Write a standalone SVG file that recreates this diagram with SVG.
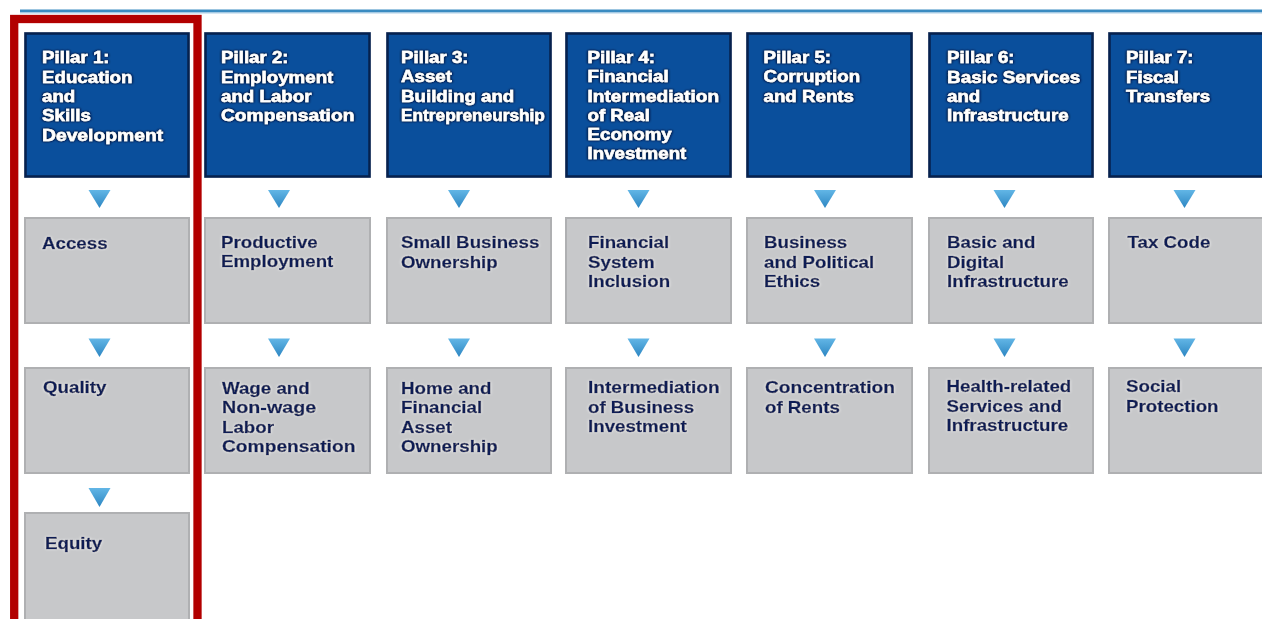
<svg xmlns="http://www.w3.org/2000/svg" width="1262" height="619" viewBox="0 0 1262 619">
  <defs>
    <linearGradient id="triFill" x1="0" y1="0" x2="0" y2="1">
      <stop offset="0" stop-color="#62b6e6"/>
      <stop offset="1" stop-color="#2d86c2"/>
    </linearGradient>
    <!-- dark halo behind white pillar titles -->
    <filter id="haloDark" x="-10%" y="-20%" width="120%" height="140%">
      <feGaussianBlur in="SourceAlpha" stdDeviation="1.2" result="b"/>
      <feFlood flood-color="#001436" flood-opacity="1"/>
      <feComposite in2="b" operator="in" result="s"/>
      <feMerge><feMergeNode in="s"/><feMergeNode in="s"/><feMergeNode in="SourceGraphic"/></feMerge>
    </filter>
    <!-- light halo behind navy text on grey boxes -->
    <filter id="haloLight" x="-10%" y="-20%" width="120%" height="140%">
      <feGaussianBlur in="SourceAlpha" stdDeviation="1.2" result="b"/>
      <feFlood flood-color="#ffffff" flood-opacity="0.9"/>
      <feComposite in2="b" operator="in" result="s"/>
      <feMerge><feMergeNode in="s"/><feMergeNode in="SourceGraphic"/></feMerge>
    </filter>
  </defs>
  <style>
    .pillar { fill: #0a4f9c; stroke: #06214d; stroke-width: 2.5; }
    .pillar-edge { fill: none; stroke: #b7bfcc; stroke-width: 1; }
    .item { fill: #c7c8ca; stroke: #afb0b2; stroke-width: 2; }
    .t { font-family: "Liberation Sans", Arial, Helvetica, sans-serif; font-weight: bold; font-size: 16px; stroke-width: 0.45px; }
    .tw { fill: #ffffff; stroke: #ffffff; filter: url(#haloDark); }
    .tn { fill: #0a1d55; stroke: #0a1d55; filter: url(#haloLight); }
    .tri { fill: url(#triFill); }
  </style>

  <rect width="1262" height="619" fill="#ffffff"/>

  <!-- top rule -->
  <rect x="20" y="9.5" width="1242" height="3" fill="#3a8bc1"/>
  <rect x="20" y="12.5" width="1242" height="1" fill="#aed0e8"/>

  <!-- Pillar header boxes (labels are set in a widened bold face) -->
  <g id="pillar1">
    <rect class="pillar-edge" x="24.5" y="32.5" width="165" height="145"/>
    <rect class="pillar" x="25.5" y="33.5" width="163" height="143"/>
    <text class="t tw" transform="translate(42 0) scale(1.17 1)"><tspan x="0" y="63.5">Pillar 1:</tspan><tspan x="0" y="82.8">Education</tspan><tspan x="0" y="102.1">and</tspan><tspan x="0" y="121.4">Skills</tspan><tspan x="0" y="140.7" textLength="103.5" lengthAdjust="spacingAndGlyphs">Development</tspan></text>
  </g>
  <g id="pillar2">
    <rect class="pillar-edge" x="204.5" y="32.5" width="166" height="145"/>
    <rect class="pillar" x="205.5" y="33.5" width="164" height="143"/>
    <text class="t tw" transform="translate(221 0) scale(1.17 1)"><tspan x="0" y="63.5">Pillar 2:</tspan><tspan x="0" y="82.8">Employment</tspan><tspan x="0" y="102.1">and Labor</tspan><tspan x="0" y="121.4" textLength="114" lengthAdjust="spacingAndGlyphs">Compensation</tspan></text>
  </g>
  <g id="pillar3">
    <rect class="pillar-edge" x="386.5" y="32.5" width="165" height="145"/>
    <rect class="pillar" x="387.5" y="33.5" width="163" height="143"/>
    <text class="t tw" transform="translate(401 0) scale(1.17 1)"><tspan x="0" y="63">Pillar 3:</tspan><tspan x="0" y="82.3">Asset</tspan><tspan x="0" y="101.6">Building and</tspan><tspan x="0" y="120.9" textLength="123" lengthAdjust="spacingAndGlyphs">Entrepreneurship</tspan></text>
  </g>
  <g id="pillar4">
    <rect class="pillar-edge" x="565.5" y="32.5" width="166" height="145"/>
    <rect class="pillar" x="566.5" y="33.5" width="164" height="143"/>
    <text class="t tw" transform="translate(587.5 0) scale(1.17 1)"><tspan x="0" y="63">Pillar 4:</tspan><tspan x="0" y="82.3">Financial</tspan><tspan x="0" y="101.6" textLength="112.5" lengthAdjust="spacingAndGlyphs">Intermediation</tspan><tspan x="0" y="120.9">of Real</tspan><tspan x="0" y="140.2">Economy</tspan><tspan x="0" y="159.5">Investment</tspan></text>
  </g>
  <g id="pillar5">
    <rect class="pillar-edge" x="746.5" y="32.5" width="166" height="145"/>
    <rect class="pillar" x="747.5" y="33.5" width="164" height="143"/>
    <text class="t tw" transform="translate(763.5 0) scale(1.17 1)"><tspan x="0" y="63">Pillar 5:</tspan><tspan x="0" y="82.3">Corruption</tspan><tspan x="0" y="101.6">and Rents</tspan></text>
  </g>
  <g id="pillar6">
    <rect class="pillar-edge" x="928.5" y="32.5" width="165" height="145"/>
    <rect class="pillar" x="929.5" y="33.5" width="163" height="143"/>
    <text class="t tw" transform="translate(947 0) scale(1.17 1)"><tspan x="0" y="63.5">Pillar 6:</tspan><tspan x="0" y="82.8" textLength="114" lengthAdjust="spacingAndGlyphs">Basic Services</tspan><tspan x="0" y="102.1">and</tspan><tspan x="0" y="121.4">Infrastructure</tspan></text>
  </g>
  <g id="pillar7">
    <rect class="pillar-edge" x="1108.5" y="32.5" width="170" height="145"/>
    <rect class="pillar" x="1109.5" y="33.5" width="168" height="143"/>
    <text class="t tw" transform="translate(1126 0) scale(1.17 1)"><tspan x="0" y="63.5">Pillar 7:</tspan><tspan x="0" y="82.8">Fiscal</tspan><tspan x="0" y="102.1">Transfers</tspan></text>
  </g>

  <!-- First-level components -->
  <g id="access">
    <rect class="item" x="25" y="218" width="164" height="105"/>
    <text class="t tn" transform="translate(42 0) scale(1.17 1)"><tspan x="0" y="249.5">Access</tspan></text>
  </g>
  <g id="productive-employment">
    <rect class="item" x="205" y="218" width="165" height="105"/>
    <text class="t tn" transform="translate(221 0) scale(1.17 1)"><tspan x="0" y="248">Productive</tspan><tspan x="0" y="267.3">Employment</tspan></text>
  </g>
  <g id="small-business-ownership">
    <rect class="item" x="387" y="218" width="164" height="105"/>
    <text class="t tn" transform="translate(401 0) scale(1.17 1)"><tspan x="0" y="248.5">Small Business</tspan><tspan x="0" y="267.8">Ownership</tspan></text>
  </g>
  <g id="financial-system-inclusion">
    <rect class="item" x="566" y="218" width="165" height="105"/>
    <text class="t tn" transform="translate(588 0) scale(1.17 1)"><tspan x="0" y="248.5">Financial</tspan><tspan x="0" y="267.8">System</tspan><tspan x="0" y="287.1">Inclusion</tspan></text>
  </g>
  <g id="business-political-ethics">
    <rect class="item" x="747" y="218" width="165" height="105"/>
    <text class="t tn" transform="translate(764 0) scale(1.17 1)"><tspan x="0" y="248.5">Business</tspan><tspan x="0" y="267.8">and Political</tspan><tspan x="0" y="287.1">Ethics</tspan></text>
  </g>
  <g id="basic-digital-infrastructure">
    <rect class="item" x="929" y="218" width="164" height="105"/>
    <text class="t tn" transform="translate(947 0) scale(1.17 1)"><tspan x="0" y="248.5">Basic and</tspan><tspan x="0" y="267.8">Digital</tspan><tspan x="0" y="287.1">Infrastructure</tspan></text>
  </g>
  <g id="tax-code">
    <rect class="item" x="1109" y="218" width="170" height="105"/>
    <text class="t tn" transform="translate(1127.5 0) scale(1.17 1)"><tspan x="0" y="248.5">Tax Code</tspan></text>
  </g>

  <!-- Second-level components -->
  <g id="quality">
    <rect class="item" x="25" y="368" width="164" height="105"/>
    <text class="t tn" transform="translate(43 0) scale(1.17 1)"><tspan x="0" y="393.5">Quality</tspan></text>
  </g>
  <g id="wage-compensation">
    <rect class="item" x="205" y="368" width="165" height="105"/>
    <text class="t tn" transform="translate(222 0) scale(1.17 1)"><tspan x="0" y="394">Wage and</tspan><tspan x="0" y="413.3" textLength="80.5" lengthAdjust="spacingAndGlyphs">Non-wage</tspan><tspan x="0" y="432.6">Labor</tspan><tspan x="0" y="451.9" textLength="114" lengthAdjust="spacingAndGlyphs">Compensation</tspan></text>
  </g>
  <g id="home-financial-asset">
    <rect class="item" x="387" y="368" width="164" height="105"/>
    <text class="t tn" transform="translate(401 0) scale(1.17 1)"><tspan x="0" y="394">Home and</tspan><tspan x="0" y="413.3">Financial</tspan><tspan x="0" y="432.6">Asset</tspan><tspan x="0" y="451.9">Ownership</tspan></text>
  </g>
  <g id="business-investment">
    <rect class="item" x="566" y="368" width="165" height="105"/>
    <text class="t tn" transform="translate(588 0) scale(1.17 1)"><tspan x="0" y="393.5" textLength="112.5" lengthAdjust="spacingAndGlyphs">Intermediation</tspan><tspan x="0" y="412.8">of Business</tspan><tspan x="0" y="432.1">Investment</tspan></text>
  </g>
  <g id="concentration-rents">
    <rect class="item" x="747" y="368" width="165" height="105"/>
    <text class="t tn" transform="translate(765 0) scale(1.17 1)"><tspan x="0" y="393.5" textLength="111" lengthAdjust="spacingAndGlyphs">Concentration</tspan><tspan x="0" y="412.8">of Rents</tspan></text>
  </g>
  <g id="health-services">
    <rect class="item" x="929" y="368" width="164" height="105"/>
    <text class="t tn" transform="translate(946.5 0) scale(1.17 1)"><tspan x="0" y="392.5">Health-related</tspan><tspan x="0" y="411.8">Services and</tspan><tspan x="0" y="431.1">Infrastructure</tspan></text>
  </g>
  <g id="social-protection">
    <rect class="item" x="1109" y="368" width="170" height="105"/>
    <text class="t tn" transform="translate(1126 0) scale(1.17 1)"><tspan x="0" y="392.5">Social</tspan><tspan x="0" y="411.8">Protection</tspan></text>
  </g>

  <!-- Third-level component -->
  <g id="equity">
    <rect class="item" x="25" y="513" width="164" height="120"/>
    <text class="t tn" transform="translate(45 0) scale(1.17 1)"><tspan x="0" y="549">Equity</tspan></text>
  </g>

  <!-- Downward arrowheads linking each level -->
  <g id="connectors">
    <path class="tri" d="M88.5,190 L110.5,190 L99.5,208 Z"/>
    <path class="tri" d="M268,190 L290,190 L279,208 Z"/>
    <path class="tri" d="M448,190 L470,190 L459,208 Z"/>
    <path class="tri" d="M627.5,190 L649.5,190 L638.5,208 Z"/>
    <path class="tri" d="M814,190 L836,190 L825,208 Z"/>
    <path class="tri" d="M993.5,190 L1015.5,190 L1004.5,208 Z"/>
    <path class="tri" d="M1173.5,190 L1195.5,190 L1184.5,208 Z"/>

    <path class="tri" d="M88.5,338.5 L110.5,338.5 L99.5,357 Z"/>
    <path class="tri" d="M268,338.5 L290,338.5 L279,357 Z"/>
    <path class="tri" d="M448,338.5 L470,338.5 L459,357 Z"/>
    <path class="tri" d="M627.5,338.5 L649.5,338.5 L638.5,357 Z"/>
    <path class="tri" d="M814,338.5 L836,338.5 L825,357 Z"/>
    <path class="tri" d="M993.5,338.5 L1015.5,338.5 L1004.5,357 Z"/>
    <path class="tri" d="M1173.5,338.5 L1195.5,338.5 L1184.5,357 Z"/>

    <path class="tri" d="M88.5,488 L110.5,488 L99.5,507 Z"/>
  </g>

  <!-- highlight frame around Pillar 1 -->
  <rect id="highlight" x="14.2" y="19" width="183.3" height="640" fill="none" stroke="#b20000" stroke-width="8.3"/>
</svg>
